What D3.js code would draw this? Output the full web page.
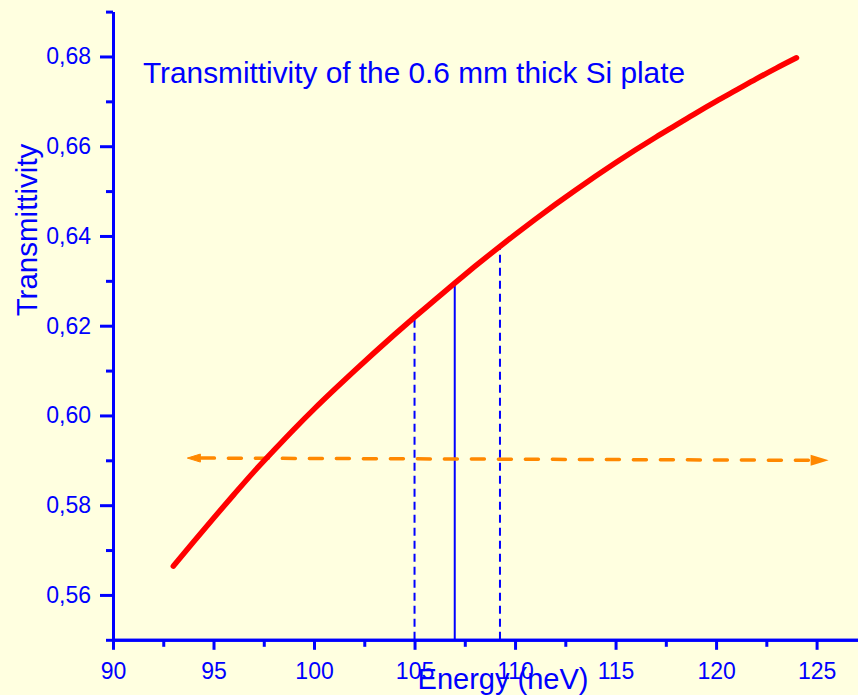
<!DOCTYPE html>
<html>
<head>
<meta charset="utf-8">
<script src="https://cdn.jsdelivr.net/npm/d3@7"></script>
<style>
  html, body { margin: 0; padding: 0; background: #ffffe0; }
  svg { display: block; }
  text { font-family: "Liberation Sans", Arial, sans-serif; fill: #0000ff; }
</style>
</head>
<body>
<svg id="chart" width="858" height="695"></svg>
<script>
// Transmittivity curve of a 0.6 mm Si plate vs. neutron energy
const energy = [93, 94, 95, 96, 97, 98, 99, 100, 101, 102, 103, 104, 105, 106, 107, 108,
                109, 110, 111, 112, 113, 114, 115, 116, 117, 118, 119, 120, 121, 122, 123, 124];
const transmittivity = [0.5664, 0.5718, 0.5771, 0.5823, 0.5874, 0.5922, 0.5969, 0.6014,
                        0.6057, 0.6099, 0.6140, 0.6180, 0.6219, 0.6257, 0.6295, 0.6332,
                        0.6368, 0.6403, 0.6437, 0.6470, 0.6502, 0.6533, 0.6563, 0.6592,
                        0.6620, 0.6647, 0.6674, 0.6700, 0.6725, 0.6750, 0.6774, 0.6797];

// energy window markers: lower bound, centre, upper bound
const markerEnergy = [105, 107, 109.25];
const markerValue = [0.6219, 0.6295, 0.6373];
const markerDashed = [true, false, true];

// horizontal reference arrow (energy, transmittivity at each end)
const arrowEnergy = [93.7, 125.6];
const arrowValue = [0.5905, 0.5900];

const xTicks = [90, 95, 100, 105, 110, 115, 120, 125];
const xMinorTicks = [92.5, 97.5, 102.5, 107.5, 112.5, 117.5, 122.5];
const yTicks = [0.56, 0.58, 0.60, 0.62, 0.64, 0.66, 0.68];
const yMinorTicks = [0.55, 0.57, 0.59, 0.61, 0.63, 0.65, 0.67, 0.69];

const titleText = "Transmittivity of the 0.6 mm thick Si plate";
const xTitle = "Energy (neV)";
const yTitle = "Transmittivity";

const svg = d3.select("#chart");
const blue = "#0000ff";

const x = d3.scaleLinear().domain([90, 127.06]).range([113, 858]);
const y = d3.scaleLinear().domain([0.55, 0.69]).range([639.8, 11.6]);

svg.append("rect").attr("width", 858).attr("height", 695).attr("fill", "#ffffe0");

function styleAxis(g) {
  g.selectAll("path.domain").attr("stroke", blue).attr("stroke-width", 3);
  g.selectAll(".tick line").attr("stroke", blue).attr("stroke-width", 3);
  g.selectAll(".tick text").attr("fill", blue)
    .style("font-family", '"Liberation Sans", Arial, sans-serif')
    .style("font-size", "23px");
}

const commaFmt = d => d3.format(".2f")(d).replace(".", ",");

// y axis: minor ticks then major ticks with labels
svg.append("g").attr("transform", `translate(${x(90)},0)`)
  .call(d3.axisLeft(y).tickValues(yMinorTicks).tickSize(7).tickSizeOuter(0).tickFormat(""))
  .call(styleAxis);
svg.append("g").attr("transform", `translate(${x(90)},0)`)
  .call(d3.axisLeft(y).tickValues(yTicks).tickSize(13).tickSizeOuter(0).tickPadding(9).tickFormat(commaFmt))
  .call(styleAxis);

// x axis
svg.append("g").attr("transform", `translate(0,${y(0.55)})`)
  .call(d3.axisBottom(x).tickValues(xMinorTicks).tickSize(7).tickSizeOuter(0).tickFormat(""))
  .call(styleAxis);
svg.append("g").attr("transform", `translate(0,${y(0.55)})`)
  .call(d3.axisBottom(x).tickValues(xTicks).tickSize(10).tickSizeOuter(0).tickPadding(13).tickFormat(d3.format("d")))
  .call(styleAxis);

// energy window markers
markerEnergy.forEach((e, i) => {
  svg.append("line")
    .attr("x1", x(e)).attr("x2", x(e))
    .attr("y1", y(0.55)).attr("y2", y(markerValue[i]))
    .attr("stroke", blue)
    .attr("stroke-width", 2)
    .attr("stroke-dasharray", markerDashed[i] ? "8,5" : null);
});

// orange reference arrow
const orange = "#ff8800";
const ax0 = x(arrowEnergy[0]), ay0 = y(arrowValue[0]);
const ax1 = x(arrowEnergy[1]), ay1 = y(arrowValue[1]);
svg.append("line")
  .attr("x1", ax0 + 14).attr("y1", ay0)
  .attr("x2", ax1 - 18).attr("y2", ay1)
  .attr("stroke", orange).attr("stroke-width", 3.5)
  .attr("stroke-linecap", "round")
  .attr("stroke-dasharray", "13,14");
svg.append("path")
  .attr("d", `M${ax0},${ay0} L${ax0 + 13},${ay0 - 4} L${ax0 + 13},${ay0 + 4} Z`)
  .attr("fill", orange).attr("stroke", orange).attr("stroke-width", 1).attr("stroke-linejoin", "round");
svg.append("path")
  .attr("d", `M${ax1},${ay1} L${ax1 - 18},${ay1 - 5.5} L${ax1 - 18},${ay1 + 5.5} Z`)
  .attr("fill", orange);

// transmittivity curve
const line = d3.line()
  .x((d, i) => x(energy[i]))
  .y(d => y(d))
  .curve(d3.curveMonotoneX);
svg.append("path")
  .datum(transmittivity)
  .attr("d", line)
  .attr("fill", "none")
  .attr("stroke", "#ff0000")
  .attr("stroke-width", 5.5)
  .attr("stroke-linecap", "round")
  .attr("stroke-linejoin", "round");

// titles
svg.append("text")
  .attr("x", 143).attr("y", 83)
  .style("font-size", "29.8px")
  .text(titleText);

svg.append("text")
  .attr("x", 503).attr("y", 689)
  .attr("text-anchor", "middle")
  .style("font-size", "29px")
  .text(xTitle);

svg.append("text")
  .attr("transform", "translate(36.5,230) rotate(-90)")
  .attr("text-anchor", "middle")
  .style("font-size", "29.5px")
  .text(yTitle);
</script>
</body>
</html>
